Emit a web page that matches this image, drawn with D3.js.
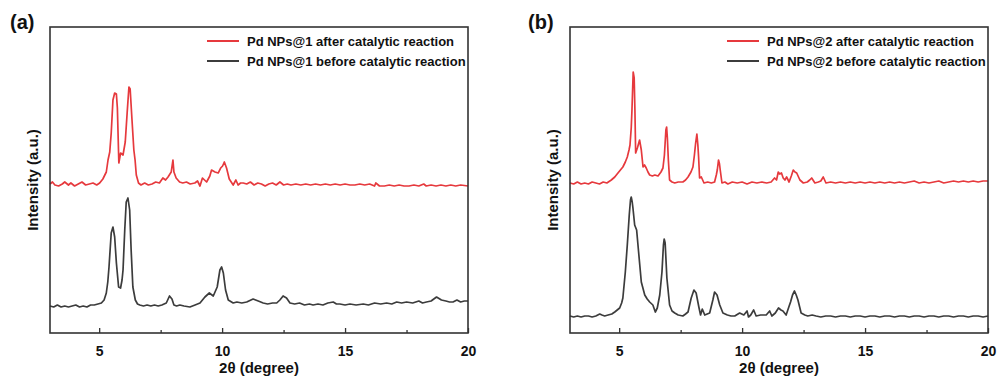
<!DOCTYPE html>
<html>
<head>
<meta charset="utf-8">
<script src="https://cdn.jsdelivr.net/npm/d3@7"></script>
<style>
  body { margin: 0; background: #fff; }
  svg text { font-family: "Liberation Sans", Arial, sans-serif; font-weight: bold; fill: #111; }
</style>
</head>
<body>
<svg id="chart" width="998" height="380"></svg>
<script>
// 2θ range and ticks
const xDomain = [3, 20];
const majorTicks = [5, 10, 15, 20];
const minorTicks = [7.5, 12.5, 17.5];

// panel (a): Pd NPs@1, [2θ, intensity a.u.] (stacked)
const afterA = [
  [3.0,149],[3.1,151],[3.2,148],[3.35,147],[3.5,149],[3.6,151],[3.75,148],[3.85,150],[4.0,147],[4.15,149],
  [4.3,151],[4.45,148],[4.6,149],[4.75,150],[4.9,148],[5.02,150],[5.15,154],[5.29,161],[5.36,173],[5.43,181],
  [5.49,200],[5.56,233],[5.63,240],[5.70,239],[5.74,225],[5.80,170],[5.87,180],[5.97,178],[6.06,191],[6.14,221],
  [6.21,246],[6.26,244],[6.33,215],[6.41,183],[6.46,173],[6.51,158],[6.6,150],[6.7,148],[6.85,150],[7.0,148],
  [7.15,149],[7.3,151],[7.45,150],[7.59,155],[7.7,153],[7.8,156],[7.93,161],[8.0,173],[8.04,161],[8.13,155],
  [8.27,151],[8.4,150],[8.55,151],[8.7,149],[8.89,150],[9.0,152],[9.1,147],[9.2,155],[9.37,151],[9.5,157],
  [9.57,163],[9.71,161],[9.84,160],[9.94,165],[10.02,167],[10.09,171],[10.18,165],[10.29,154],[10.45,148],[10.56,153],
  [10.65,148],[10.75,150],[10.86,150],[11.0,149],[11.15,151],[11.3,148],[11.45,150],[11.6,149],[11.75,147],[11.9,149],
  [12.05,150],[12.2,148],[12.35,151],[12.5,148],[12.65,149],[12.8,148],[13.0,149],[13.2,148],[13.4,149],[13.6,148],
  [13.8,149],[14.0,148],[14.2,149],[14.4,148],[14.6,149],[14.8,148],[15.0,149],[15.2,148],[15.4,148],[15.6,149],
  [15.8,148],[16.0,149],[16.2,147],[16.25,150],[16.4,147],[16.6,147],[16.8,148],[17.0,147],[17.2,148],[17.4,147],
  [17.6,147],[17.8,148],[18.0,147],[18.2,149],[18.3,147],[18.5,148],[18.7,147],[18.9,148],[19.1,147],[19.3,148],
  [19.5,147],[19.7,148],[20.0,147]
];
const beforeA = [
  [3.0,27],[3.15,26],[3.3,28],[3.45,26],[3.6,27],[3.75,26],[3.9,27],[4.05,28],[4.2,26],[4.35,27],
  [4.5,26],[4.65,28],[4.8,28],[4.95,29],[5.09,30],[5.2,33],[5.29,40],[5.35,51],[5.40,66],[5.45,85],
  [5.49,100],[5.56,106],[5.63,96],[5.70,70],[5.79,46],[5.87,45],[5.93,53],[5.97,63],[6.04,103],[6.10,131],
  [6.17,135],[6.24,123],[6.30,83],[6.37,46],[6.47,33],[6.56,29],[6.65,28],[6.8,27],[6.95,28],[7.1,27],
  [7.25,28],[7.4,27],[7.55,28],[7.73,30],[7.86,37],[7.96,34],[8.04,28],[8.15,27],[8.28,28],[8.45,27],
  [8.69,26],[8.9,28],[9.10,30],[9.30,36],[9.48,40],[9.64,37],[9.80,46],[9.91,63],[9.98,66],[10.05,60],
  [10.14,43],[10.25,33],[10.45,30],[10.6,31],[10.8,30],[11.0,31],[11.26,34],[11.47,32],[11.67,30],[11.85,29],
  [12.05,30],[12.22,30],[12.35,33],[12.48,37],[12.62,35],[12.76,30],[12.95,29],[13.15,30],[13.35,28],[13.55,29],
  [13.7,28],[13.9,29],[14.1,28],[14.3,30],[14.52,31],[14.65,29],[14.79,29],[15.0,28],[15.2,29],[15.45,28],
  [15.74,29],[15.95,28],[16.2,30],[16.45,29],[16.69,30],[16.9,29],[17.1,31],[17.3,30],[17.5,31],[17.75,30],
  [18.0,32],[18.15,30],[18.31,31],[18.5,32],[18.72,36],[18.92,33],[19.1,32],[19.25,31],[19.39,31],[19.55,33],
  [19.7,31],[19.85,32],[20.0,32]
];

// panel (b): Pd NPs@2
const afterB = [
  [3.0,150],[3.15,149],[3.3,151],[3.45,149],[3.6,150],[3.75,149],[3.9,151],[4.05,150],[4.2,149],[4.35,151],
  [4.5,150],[4.68,153],[4.82,156],[4.95,160],[5.05,163],[5.15,166],[5.25,171],[5.33,176],[5.40,183],[5.44,188],
  [5.49,205],[5.52,223],[5.57,261],[5.61,255],[5.64,223],[5.67,180],[5.74,185],[5.83,193],[5.90,183],[5.97,166],
  [6.03,168],[6.10,165],[6.17,161],[6.24,158],[6.35,157],[6.45,158],[6.58,157],[6.70,161],[6.78,165],[6.84,178],
  [6.9,203],[6.93,206],[6.96,195],[7.0,173],[7.05,153],[7.15,151],[7.26,150],[7.4,151],[7.59,151],[7.7,153],
  [7.80,156],[7.92,161],[8.0,166],[8.06,178],[8.11,190],[8.16,199],[8.20,188],[8.23,176],[8.27,155],[8.34,156],
  [8.45,150],[8.6,151],[8.75,150],[8.88,151],[8.95,158],[8.99,163],[9.04,173],[9.08,169],[9.11,163],[9.18,150],
  [9.3,151],[9.42,149],[9.6,151],[9.8,150],[10.0,151],[10.2,149],[10.4,151],[10.6,150],[10.8,151],[11.0,150],
  [11.18,151],[11.32,155],[11.4,153],[11.47,161],[11.53,159],[11.6,160],[11.67,155],[11.74,153],[11.81,156],[11.91,151],
  [12.0,157],[12.08,163],[12.15,161],[12.22,160],[12.35,153],[12.49,150],[12.65,151],[12.75,153],[12.83,155],[12.96,150],
  [13.1,151],[13.2,152],[13.3,156],[13.41,150],[13.6,151],[13.8,150],[14.0,151],[14.2,150],[14.4,151],[14.6,150],
  [14.8,151],[15.0,150],[15.2,151],[15.4,150],[15.6,151],[15.8,150],[16.0,151],[16.2,150],[16.4,151],[16.6,150],
  [16.8,151],[17.0,152],[17.2,150],[17.4,151],[17.6,150],[17.8,151],[18.0,152],[18.2,150],[18.4,151],[18.6,152],
  [18.8,151],[19.0,152],[19.2,151],[19.4,152],[19.6,151],[19.8,152],[20.0,152]
];
const beforeB = [
  [3.0,17],[3.15,16],[3.3,17],[3.45,16],[3.6,17],[3.75,17],[3.9,16],[4.05,17],[4.21,19],[4.3,18],
  [4.41,17],[4.55,18],[4.7,19],[4.82,21],[4.92,23],[5.02,25],[5.1,30],[5.15,35],[5.25,61],[5.33,88],
  [5.41,118],[5.46,133],[5.49,136],[5.53,131],[5.56,125],[5.63,108],[5.71,103],[5.79,81],[5.90,51],[6.04,38],
  [6.14,34],[6.24,31],[6.37,28],[6.47,21],[6.55,25],[6.65,38],[6.74,61],[6.80,88],[6.83,94],[6.87,90],
  [6.94,55],[7.05,28],[7.15,22],[7.26,20],[7.4,18],[7.59,17],[7.70,19],[7.80,21],[7.93,35],[8.04,43],
  [8.13,40],[8.24,26],[8.31,18],[8.38,24],[8.48,18],[8.68,20],[8.81,33],[8.88,41],[8.98,38],[9.09,28],
  [9.22,20],[9.4,18],[9.55,17],[9.70,17],[9.90,20],[10.07,18],[10.20,22],[10.26,16],[10.35,18],[10.47,23],
  [10.57,17],[10.75,18],[10.98,18],[11.12,22],[11.21,17],[11.35,20],[11.48,25],[11.58,23],[11.66,22],[11.79,18],
  [11.9,26],[11.97,31],[12.05,38],[12.13,42],[12.20,38],[12.27,33],[12.40,20],[12.55,18],[12.67,17],[12.85,18],
  [13.01,17],[13.2,16],[13.4,17],[13.6,17],[13.8,16],[14.0,17],[14.2,17],[14.4,16],[14.6,17],[14.8,17],
  [15.0,16],[15.2,17],[15.4,17],[15.6,16],[15.8,17],[16.0,17],[16.2,16],[16.4,17],[16.6,17],[16.8,16],
  [17.0,17],[17.2,17],[17.4,16],[17.6,17],[17.8,17],[18.0,16],[18.2,17],[18.4,17],[18.6,16],[18.8,17],
  [19.0,17],[19.2,16],[19.4,17],[19.6,17],[19.8,16],[20.0,17]
];

const yDomain = [0, 306];
const red = '#e6393d';
const dark = '#3c3c3c';

const svg = d3.select('#chart');

function drawPanel(opts) {
    const { left, right, top, bottom, tag, series } = opts;
    const g = svg.append('g');

    const x = d3.scaleLinear().domain(xDomain).range([left, right]);
    const y = d3.scaleLinear().domain(yDomain).range([bottom, top]);

    const line = d3.line()
        .x(d => x(d[0]))
        .y(d => y(d[1]));

    // curves
    series.forEach(s => {
        g.append('path')
            .datum(s.values)
            .attr('fill', 'none')
            .attr('stroke', s.color)
            .attr('stroke-width', 1.7)
            .attr('stroke-linejoin', 'round')
            .attr('d', line);
    });

    // major ticks with labels (inward)
    const axis = g.append('g')
        .attr('transform', `translate(0,${bottom})`)
        .call(d3.axisBottom(x).tickValues(majorTicks).tickSize(-5).tickPadding(13).tickFormat(d3.format('d')));
    axis.select('.domain').remove();
    axis.selectAll('line').attr('stroke', '#333').attr('stroke-width', 1.3);
    axis.selectAll('text')
        .attr('font-size', 14)
        .attr('font-family', '"Liberation Sans", Arial, sans-serif')
        .attr('font-weight', 'bold')
        .attr('fill', '#111');

    // minor ticks
    const minor = g.append('g')
        .attr('transform', `translate(0,${bottom})`)
        .call(d3.axisBottom(x).tickValues(minorTicks).tickSize(-3).tickFormat(''));
    minor.select('.domain').remove();
    minor.selectAll('line').attr('stroke', '#333').attr('stroke-width', 1.3);

    // frame
    g.append('rect')
        .attr('x', left)
        .attr('y', top)
        .attr('width', right - left)
        .attr('height', bottom - top)
        .attr('fill', 'none')
        .attr('stroke', '#333')
        .attr('stroke-width', 1.6);

    // axis titles
    g.append('text')
        .attr('x', (left + right) / 2)
        .attr('y', 373)
        .attr('text-anchor', 'middle')
        .attr('font-size', 15)
        .text('2θ (degree)');

    g.append('text')
        .attr('transform', `translate(${left - 12},${(top + bottom) / 2 - 0}) rotate(-90)`)
        .attr('text-anchor', 'middle')
        .attr('font-size', 15)
        .text('Intensity (a.u.)');

    // panel tag
    g.append('text')
        .attr('x', opts.tagX)
        .attr('y', 29)
        .attr('font-size', 20)
        .text(tag);

    // legend
    series.forEach((s, i) => {
        const ly = 41 + i * 20;
        g.append('line')
            .attr('x1', opts.legendX)
            .attr('x2', opts.legendX + 32)
            .attr('y1', ly)
            .attr('y2', ly)
            .attr('stroke', s.color)
            .attr('stroke-width', 2);
        g.append('text')
            .attr('x', opts.legendX + 40)
            .attr('y', ly + 4.5)
            .attr('font-size', 13)
            .text(s.label);
    });
}

drawPanel({
    left: 50, right: 468, top: 27, bottom: 333,
    tag: '(a)', tagX: 10, legendX: 207,
    series: [
        { values: afterA, color: red, label: 'Pd NPs@1 after catalytic reaction' },
        { values: beforeA, color: dark, label: 'Pd NPs@1 before catalytic reaction' }
    ]
});

drawPanel({
    left: 570, right: 988, top: 27, bottom: 333,
    tag: '(b)', tagX: 528, legendX: 727,
    series: [
        { values: afterB, color: red, label: 'Pd NPs@2 after catalytic reaction' },
        { values: beforeB, color: dark, label: 'Pd NPs@2 before catalytic reaction' }
    ]
});
</script>
</body>
</html>
